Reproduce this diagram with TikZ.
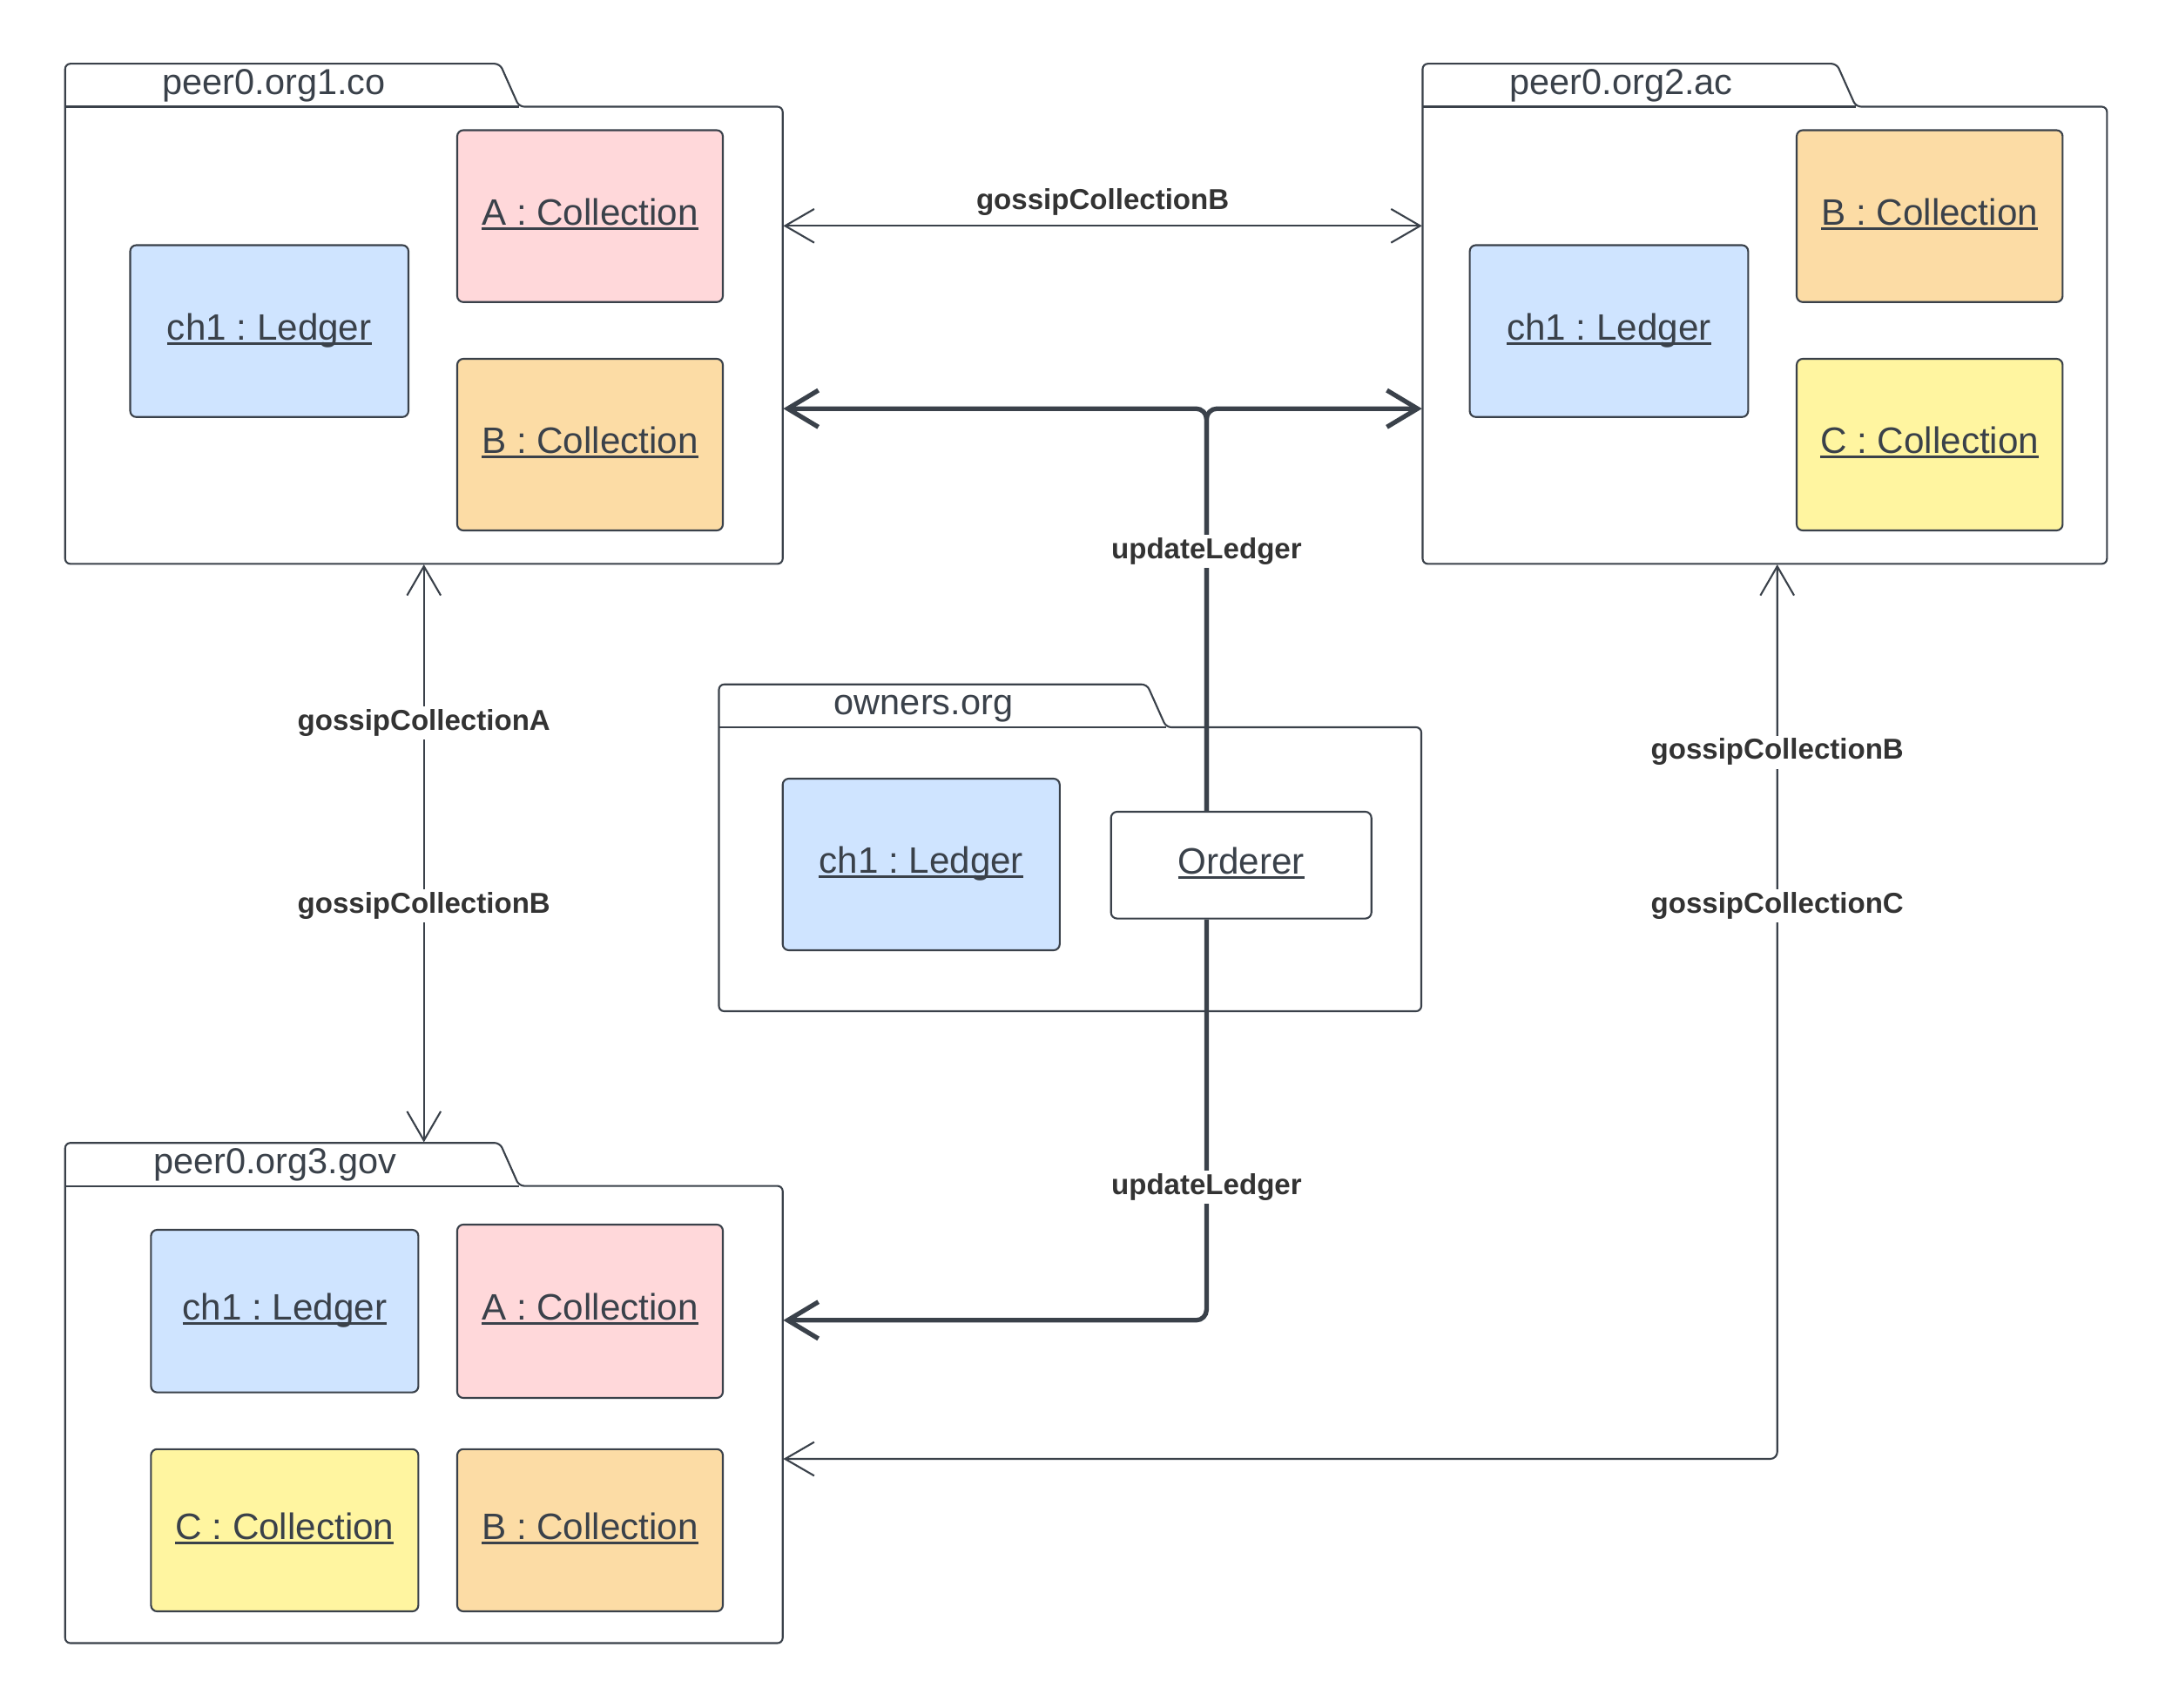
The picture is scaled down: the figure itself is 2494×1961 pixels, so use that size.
\documentclass[tikz,border=0pt]{standalone}
\usepackage{fontspec}
\setmainfont{Liberation Sans}
\usetikzlibrary{arrows.meta,fit}
\frenchspacing

\definecolor{ink}{HTML}{3A414A}
\definecolor{labelink}{HTML}{333333}
\definecolor{fillpink}{HTML}{FFD8DA}
\definecolor{fillorange}{HTML}{FCDCA5}
\definecolor{fillblue}{HTML}{CFE4FF}
\definecolor{fillyellow}{HTML}{FFF5A0}

% underlined object name with a fixed underline position
\newcommand{\objname}[1]{\setbox0=\hbox{#1}\rlap{\rule[-1.6pt]{\wd0}{0.85pt}}\box0}

% UML package: #1 name, #2 left x, #3 tab top y, #4 tab line y,
% #5 right x, #6 bottom y, #7 tab end x, #8 title, #9 title offset
\newcommand{\umlpkg}[9]{%
  \node[fit={(#2,#3) (#5,#6)}, inner sep=0pt] (#1) {};
  \draw[pkgline] (#2,#4) -- (#2,#3) -- (#7-22,#3) -- (#7,#4) -- (#5,#4)
        -- (#5,#6) -- (#2,#6) -- cycle;
  \draw[pkgline, rounded corners=0pt] (#2,#4) -- (#7,#4);
  \node[pkgtitle, anchor=base] at (#2+#9,#3+35) {#8};
}

% object box: #1 name, #2 fill, #3 top-left, #4 bottom-right, #5 text
\newcommand{\objbox}[5]{%
  \node[objframe, fill=#2, fit={#3 #4}] (#1) {};
  \node[objtext, anchor=base] at ([yshift=-2.9pt]#1.center) {\objname{#5}};
}

\tikzset{
  pkgline/.style={draw=ink, line width=0.6pt, rounded corners=0.6mm},
  pkgtitle/.style={text=ink, font=\fontsize{11.8}{14}\selectfont, inner sep=0pt},
  objframe/.style={draw=ink, line width=0.6pt, rounded corners=0.7mm, inner sep=0pt},
  objtext/.style={text=ink, font=\fontsize{12}{14}\selectfont, inner sep=0pt},
  thinlink/.style={draw=ink, line width=0.6pt, rounded corners=0.8mm,
    {Straight Barb[length=9.5pt,width=11pt]}-{Straight Barb[length=9.5pt,width=11pt]}},
  boldlink/.style={draw=ink, line width=1.5pt, rounded corners=1.2mm,
    -{Straight Barb[length=10pt,width=12pt]}},
  elabel/.style={fill=white, text=labelink, inner sep=1pt,
    font=\fontsize{9.4}{11}\selectfont\bfseries},
}

\begin{document}
\begin{tikzpicture}[x=0.01cm, y=-0.01cm]
  \useasboundingbox[fill=white] (0,0) rectangle (2494,1961);

  % packages
  \umlpkg{org1}{74.8}{73.2}{122.5}{898.7}{647.4}{596}{peer0.org1.co}{240}
  \umlpkg{org2}{1633.5}{73.2}{122.5}{2419.3}{647.4}{2131}{peer0.org2.ac}{228}
  \umlpkg{owners}{825.5}{785.8}{835}{1632}{1161}{1339}{owners.org}{235}
  \umlpkg{org3}{74.8}{1312.2}{1361.6}{898.7}{1886.5}{596}{peer0.org3.gov}{241}

  % peer0.org1.co contents
  \objbox{l1}{fillblue}{(149.5,281.5)}{(469,478.8)}{ch1 : Ledger}
  \objbox{a1}{fillpink}{(525,149.5)}{(830,346.8)}{A : Collection}
  \objbox{b1}{fillorange}{(525,412)}{(830,609)}{B : Collection}

  % peer0.org2.ac contents
  \objbox{l2}{fillblue}{(1687.6,281.5)}{(2007.3,478.8)}{ch1 : Ledger}
  \objbox{b2}{fillorange}{(2063,149.5)}{(2368.4,346.8)}{B : Collection}
  \objbox{c2}{fillyellow}{(2063,412)}{(2368.4,609)}{C : Collection}

  % owners.org contents
  \objbox{lo}{fillblue}{(898.7,894)}{(1216.8,1091)}{ch1 : Ledger}
  \objbox{orderer}{white}{(1275.7,932)}{(1574.7,1054.6)}{Orderer}

  % peer0.org3.gov contents
  \objbox{l3}{fillblue}{(173.4,1412)}{(480.4,1598.6)}{ch1 : Ledger}
  \objbox{a3}{fillpink}{(525,1406)}{(830,1605)}{A : Collection}
  \objbox{c3}{fillyellow}{(173.4,1663.8)}{(480.4,1850)}{C : Collection}
  \objbox{b3}{fillorange}{(525,1663.8)}{(830,1850)}{B : Collection}

  % routing guides
  \coordinate (rowB) at (0,259.3);
  \coordinate (rowU) at (0,469.2);
  \coordinate (rowL) at (0,1515.8);
  \coordinate (rowC) at (0,1675);
  \coordinate (busX) at (1385.4,0);
  \coordinate (colC) at (2040.7,0);

  % gossip between org1 and org2
  \draw[thinlink] (org1.east |- rowB) -- (org2.west |- rowB)
    node[elabel, midway, fill=none, yshift=7.8pt] {gossipCollectionB};

  % gossip between org1 and org3
  \draw[thinlink] (org1.south) -- (org3.north);
  \node[elabel] at (486.7,830) {gossipCollectionA};
  \node[elabel] at (486.7,1040) {gossipCollectionB};

  % gossip between org2 and org3
  \draw[thinlink] (org2.south -| colC) |- (org3.east |- rowC);
  \node[elabel] at (2040.7,863.5) {gossipCollectionB};
  \node[elabel] at (2040.7,1040) {gossipCollectionC};

  % ledger updates from the orderer
  \draw[boldlink] (busX |- orderer.north) |- (org1.east |- rowU);
  \draw[boldlink] (busX |- orderer.north) |- (org2.west |- rowU);
  \node[elabel] at (1385.4,633) {updateLedger};
  \draw[boldlink] (busX |- orderer.south) |- (org3.east |- rowL);
  \node[elabel] at (1385.4,1363) {updateLedger};
\end{tikzpicture}
\end{document}
